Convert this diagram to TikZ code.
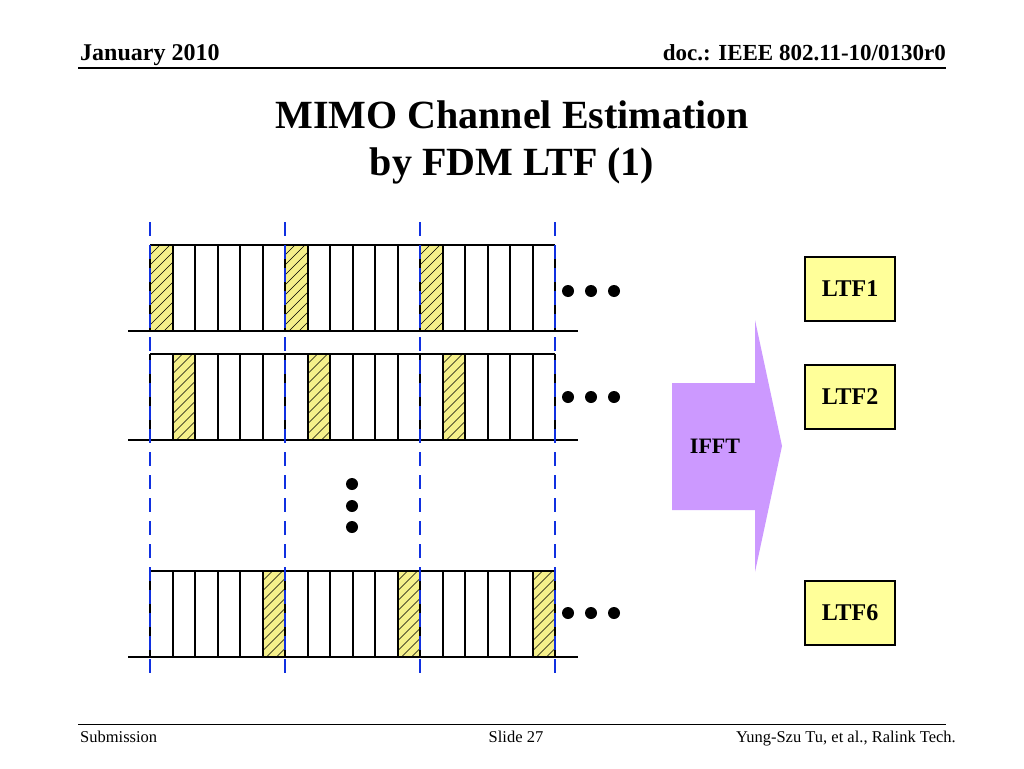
\documentclass[tikz,border=0pt]{standalone}
\usepackage{fontspec}
\setmainfont{Liberation Serif}
\definecolor{hy}{HTML}{F5F08A}
\definecolor{boxy}{HTML}{FFFF99}
\definecolor{arrowp}{HTML}{CC99FF}
\definecolor{dblue}{HTML}{1030E0}
\tikzset{
  grid/.style={line width=2pt,black},
  hl/.style={line width=0.6pt,black},
  guide/.style={line width=1.8pt,dblue,dash pattern=on 14pt off 9pt},
  ltf/.style={draw=black,line width=1.4pt,fill=boxy,minimum width=90pt,minimum height=64pt,inner sep=0pt,font=\fontsize{24}{26}\selectfont\bfseries},
  dotc/.style={circle,fill=black,inner sep=0pt,minimum size=12pt},
}
\newcommand\hcell[2]{%
\begin{scope}
\clip (#1,#2) rectangle ++(22.5,86);
\fill[hy] (#1,#2) rectangle ++(22.5,86);
\foreach \k in {0,...,11} \draw[hl] (#1,#2+\k*10) -- ++(30,-30);
\end{scope}}
\newcommand\cellrow[1]{%
\foreach \i in {0,...,18} \draw[grid] (150+\i*22.5,#1) -- ++(0,86);
\draw[grid] (150,#1) -- (555,#1);
\draw[grid] (128,#1+86) -- (578,#1+86);}
\begin{document}
\begin{tikzpicture}[x=1pt,y=-1pt]
\useasboundingbox (0,0) rectangle (1024,768);
\fill[white] (0,0) rectangle (1024,768);
% header
\node[anchor=base west,inner sep=0pt,font=\fontsize{24}{26}\selectfont\bfseries] (hdl) at (80,60) {January 2010};
\node[anchor=base east,inner sep=0pt,font=\fontsize{23}{26}\selectfont\bfseries] (hdr) at (946,60) {doc.: IEEE 802.11-10/0130r0};
\draw[line width=1.2pt] (78,68) -- (946,68);
\node[anchor=base,inner sep=0pt,font=\fontsize{40}{44}\selectfont\bfseries] (t1) at (512,128) {MIMO Channel Estimation};
\node[anchor=base,inner sep=0pt,font=\fontsize{40}{44}\selectfont\bfseries] (t2) at (512,175) {by FDM LTF (1)};
% footer
\draw[line width=1pt] (78,724) -- (946,724);
\node[anchor=base west,inner sep=0pt,font=\fontsize{16.5}{18}\selectfont] (f1) at (80,742) {Submission};
\node[anchor=base,inner sep=0pt,font=\fontsize{16.5}{18}\selectfont] (f2) at (516,742) {Slide 27};
\node[anchor=base east,inner sep=0pt,font=\fontsize{16.5}{18}\selectfont] (f3) at (956,742) {Yung-Szu Tu, et al., Ralink Tech.};
% rows
\foreach \c in {0,6,12} {\hcell{150+\c*22.5}{245}}
\foreach \c in {1,7,13} {\hcell{150+\c*22.5}{354}}
\foreach \c in {5,11,17} {\hcell{150+\c*22.5}{571}}
\cellrow{245}
\cellrow{354}
\cellrow{571}
% guides
\foreach \x in {150,285,420,555} \draw[guide] (\x,222) -- (\x,678);
% dots
\foreach \y/\n in {291/a,397/b,613/c} {
  \node[dotc] (d\n1) at (568,\y) {};
  \node[dotc] (d\n2) at (591,\y) {};
  \node[dotc] (d\n3) at (614,\y) {};
}
\node[dotc] (v1) at (352,484) {};
\node[dotc] (v2) at (352,506) {};
\node[dotc] (v3) at (352,527) {};
% IFFT arrow
\fill[arrowp] (672,383) -- (755,383) -- (755,320) -- (782,446) -- (755,572) -- (755,510) -- (672,510) -- cycle;
\node[font=\fontsize{22}{24}\selectfont\bfseries] (ifft) at (715,446) {IFFT};
% LTF boxes
\node[ltf] (l1) at (850,289) {LTF1};
\node[ltf] (l2) at (850,397) {LTF2};
\node[ltf] (l6) at (850,613) {LTF6};
\end{tikzpicture}
\end{document}
